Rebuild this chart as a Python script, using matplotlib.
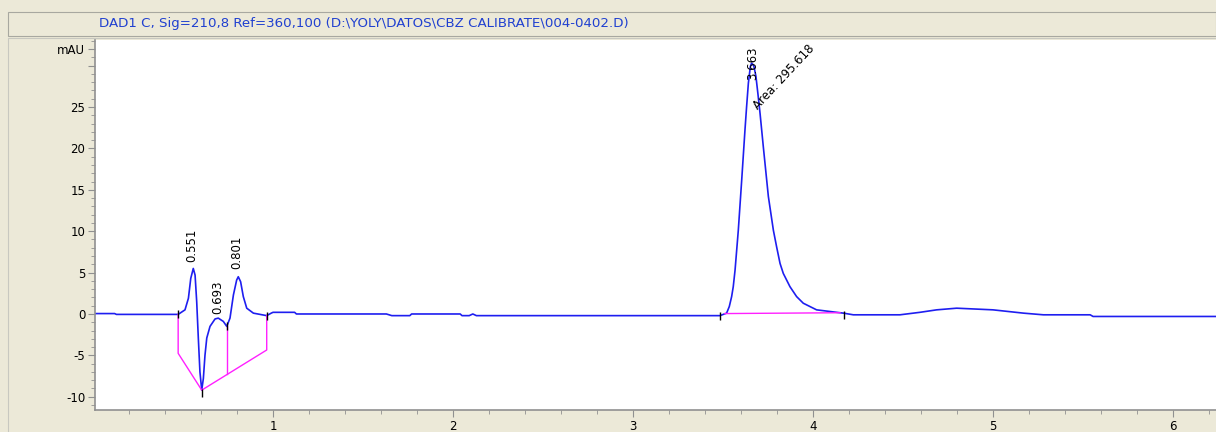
import matplotlib
matplotlib.use('Agg')
import matplotlib.pyplot as plt
from matplotlib.patches import Rectangle
from matplotlib.ticker import MultipleLocator

# Tín hiệu DAD1 C (thời gian phút, mAU)
time_min = [0.01, 0.12, 0.13, 0.47, 0.473, 0.511, 0.53, 0.543, 0.557, 0.567,
            0.576, 0.585, 0.594, 0.604, 0.613, 0.622, 0.632, 0.65, 0.678, 0.696,
            0.724, 0.743, 0.761, 0.78, 0.798, 0.807, 0.82, 0.835, 0.854, 0.891,
            0.965, 0.99, 1.0, 1.12, 1.13, 1.63, 1.66, 1.76, 1.77, 2.04,
            2.05, 2.09, 2.11, 2.13, 3.483, 3.52, 3.535, 3.548, 3.557, 3.567,
            3.585, 3.604, 3.622, 3.631, 3.641, 3.652, 3.659, 3.668, 3.672, 3.683,
            3.694, 3.706, 3.724, 3.752, 3.78, 3.798, 3.817, 3.835, 3.872, 3.909,
            3.946, 4.02, 4.094, 4.17, 4.224, 4.483, 4.594, 4.687, 4.798, 5.0,
            5.17, 5.28, 5.54, 5.556, 6.25]
signal_mau = [0.05, 0.05, -0.05, -0.05, -0.05, 0.5, 1.9, 4.3, 5.5, 4.7,
              1.5, -2.9, -7.0, -9.2, -7.8, -5.0, -2.9, -1.5, -0.6, -0.5,
              -0.9, -1.5, -0.5, 2.3, 4.1, 4.5, 3.9, 2.1, 0.7, 0.1,
              -0.2, 0.1, 0.2, 0.2, 0.0, 0.0, -0.2, -0.2, 0.0, 0.0,
              -0.2, -0.2, 0.0, -0.2, -0.2, 0.1, 0.9, 2.1, 3.3, 5.3,
              10.1, 16.2, 22.2, 25.0, 27.9, 29.9, 30.3, 30.1, 29.9, 28.7,
              26.6, 24.2, 20.2, 14.2, 10.1, 8.1, 6.1, 4.9, 3.3, 2.1,
              1.3, 0.5, 0.3, 0.1, -0.1, -0.1, 0.2, 0.5, 0.7, 0.5,
              0.1, -0.1, -0.1, -0.3, -0.3]

# Đường nền tích phân (màu hồng)
base1_t = [0.473, 0.473, 0.604, 0.965, 0.965]
base1_v = [-0.05, -4.75, -9.2, -4.35, -0.2]
drop_t = [0.743, 0.743]
drop_v = [-1.5, -7.3]
base2_t = [3.51, 4.15]
base2_v = [0.05, 0.15]

# Điểm đánh dấu biên peak
mark_t = [0.473, 0.604, 0.743, 0.965, 3.483, 4.17]
mark_v = [-0.05, -9.6, -1.5, -0.2, -0.3, -0.1]

# Nhãn thời gian lưu
peak_rt = [0.551, 0.693, 0.801, 3.663]
peak_lbl = ['0.551', '0.693', '0.801', '3.663']
area_lbl = 'Area: 295.618'

W, H = 1216, 432
bg = '#ECE9D8'
fig = plt.figure(figsize=(W / 100, H / 100), dpi=100, facecolor=bg)

# Thanh tiêu đề + khung (vẽ phía sau trục)
fig.patches.append(Rectangle((8 / W, 1 - 36 / H), (W - 8) / W, 24 / H,
                             transform=fig.transFigure, facecolor=bg,
                             edgecolor='#A8A8A0', lw=0.8, zorder=-5))
fig.patches.append(Rectangle((8 / W, -0.01), 1, (H - 38) / H + 0.01,
                             transform=fig.transFigure, facecolor=bg,
                             edgecolor='#C8C8C0', lw=0.8, zorder=-5))
fig.text(99 / W, 1 - 24 / H,
         'DAD1 C, Sig=210,8 Ref=360,100 (D:\\YOLY\\DATOS\\CBZ CALIBRATE\\004-0402.D)',
         color='#2040D0', fontsize=9.6, va='center', ha='left')

ax = fig.add_axes([95 / W, 22 / H, (W - 95) / W, 370 / H])
ax.set_facecolor('white')
ax.plot(time_min, signal_mau, color='#1E1EF0', lw=1.2)
ax.plot(base1_t, base1_v, color='#FF20FF', lw=1.0)
ax.plot(drop_t, drop_v, color='#FF20FF', lw=1.0)
ax.plot(base2_t, base2_v, color='#FF20FF', lw=1.0)
ax.plot(mark_t, mark_v, ls='none', marker='|', color='black', ms=6, mew=1)

# Nhãn peak
lbl_y = [6.3, 0.0, 5.4, 28.3]
for rt, txt, yy in zip(peak_rt, peak_lbl, lbl_y):
    ax.text(rt, yy, txt, rotation=90, ha='center', va='bottom', fontsize=8.5)
ax.text(3.706, 24.4, area_lbl, rotation=47, rotation_mode='anchor',
        ha='left', va='bottom', fontsize=8.5)

ax.set_xlim(0.011, 6.239)
ax.set_ylim(-11.6, 33.1)

ax.set_xticks([1, 2, 3, 4, 5, 6])
ax.xaxis.set_minor_locator(MultipleLocator(0.2))
yt = [-10, -5, 0, 5, 10, 15, 20, 25, 30, 32]
ax.set_yticks(yt)
ax.set_yticklabels(['-10', '-5', '0', '5', '10', '15', '20', '25', '', 'mAU'])
ax.yaxis.set_minor_locator(MultipleLocator(1))

for s in ['top', 'right']:
    ax.spines[s].set_visible(False)
for s in ['left', 'bottom']:
    ax.spines[s].set_color('#909090')
    ax.spines[s].set_linewidth(1.2)
ax.tick_params(which='major', direction='out', length=5, color='#909090',
               labelsize=8.5, pad=2)
ax.tick_params(which='minor', direction='out', length=3, color='#909090')

fig.savefig('out.png', dpi=100, facecolor=bg)
